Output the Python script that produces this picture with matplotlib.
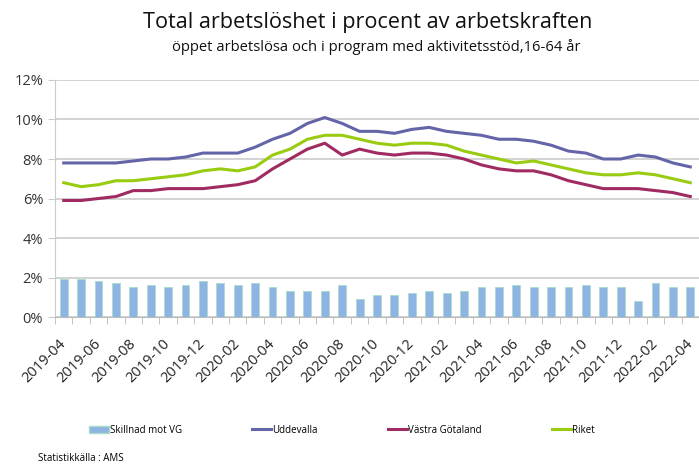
import numpy as np
import matplotlib.pyplot as plt
import matplotlib.transforms as mtransforms
from matplotlib.patches import Patch
from matplotlib.lines import Line2D

# months 2019-04 .. 2022-04
months = ['2019-04', '2019-05', '2019-06', '2019-07', '2019-08', '2019-09',
          '2019-10', '2019-11', '2019-12', '2020-01', '2020-02', '2020-03',
          '2020-04', '2020-05', '2020-06', '2020-07', '2020-08', '2020-09',
          '2020-10', '2020-11', '2020-12', '2021-01', '2021-02', '2021-03',
          '2021-04', '2021-05', '2021-06', '2021-07', '2021-08', '2021-09',
          '2021-10', '2021-11', '2021-12', '2022-01', '2022-02', '2022-03',
          '2022-04']

skillnad = [1.9, 1.9, 1.8, 1.7, 1.5, 1.6, 1.5, 1.6, 1.8, 1.7, 1.6, 1.7,
            1.5, 1.3, 1.3, 1.3, 1.6, 0.9, 1.1, 1.1, 1.2, 1.3, 1.2, 1.3,
            1.5, 1.5, 1.6, 1.5, 1.5, 1.5, 1.6, 1.5, 1.5, 0.8, 1.7, 1.5, 1.5]

uddevalla = [7.8, 7.8, 7.8, 7.8, 7.9, 8.0, 8.0, 8.1, 8.3, 8.3, 8.3, 8.6,
             9.0, 9.3, 9.8, 10.1, 9.8, 9.4, 9.4, 9.3, 9.5, 9.6, 9.4, 9.3,
             9.2, 9.0, 9.0, 8.9, 8.7, 8.4, 8.3, 8.0, 8.0, 8.2, 8.1, 7.8, 7.6]

vastra_gotaland = [5.9, 5.9, 6.0, 6.1, 6.4, 6.4, 6.5, 6.5, 6.5, 6.6, 6.7, 6.9,
                   7.5, 8.0, 8.5, 8.8, 8.2, 8.5, 8.3, 8.2, 8.3, 8.3, 8.2, 8.0,
                   7.7, 7.5, 7.4, 7.4, 7.2, 6.9, 6.7, 6.5, 6.5, 6.5, 6.4, 6.3, 6.1]

riket = [6.8, 6.6, 6.7, 6.9, 6.9, 7.0, 7.1, 7.2, 7.4, 7.5, 7.4, 7.6,
         8.2, 8.5, 9.0, 9.2, 9.2, 9.0, 8.8, 8.7, 8.8, 8.8, 8.7, 8.4,
         8.2, 8.0, 7.8, 7.9, 7.7, 7.5, 7.3, 7.2, 7.2, 7.3, 7.2, 7.0, 6.8]

c_bar = '#8db4e2'
c_udd = '#6464a8'
c_vg = '#a02a62'
c_rik = '#99cc11'

plt.rcParams['font.family'] = ['Open Sans', 'DejaVu Sans']

fig = plt.figure(figsize=(6.99, 4.70), dpi=100)
ax = fig.add_axes([0.0787, 0.3255, 0.9213, 0.5043])

x = np.arange(len(months))
ax.bar(x, skillnad, width=0.45, color=c_bar, edgecolor='#a8dccb', linewidth=0.6, zorder=2)
ax.plot(x, uddevalla, color=c_udd, lw=2.2, zorder=3)
ax.plot(x, vastra_gotaland, color=c_vg, lw=2.2, zorder=3)
ax.plot(x, riket, color=c_rik, lw=2.2, zorder=3)

ax.set_xlim(-0.5, len(months) - 0.5)
ax.set_ylim(0, 12)
ax.set_yticks(np.arange(0, 13, 2))
ax.set_yticklabels([f'{v}%' for v in range(0, 13, 2)], fontsize=10.5, color='#333333')
ax.yaxis.grid(True, color='#cccccc', lw=1.2, zorder=0)
ax.set_axisbelow(True)

ax.set_xticks(x[::2])
ax.set_xticklabels(months[::2], rotation=45, ha='right', va='center',
                   rotation_mode='anchor', fontsize=10.5, color='#222222')
shift = mtransforms.ScaledTranslation(-3 / 100, 0, fig.dpi_scale_trans)
for lab in ax.get_xticklabels():
    lab.set_transform(lab.get_transform() + shift)
ax.set_xticks(np.arange(-0.5, len(months), 1), minor=True)
ax.tick_params(axis='x', which='major', length=0, pad=18)
ax.tick_params(axis='x', which='minor', length=5, color='#bbbbbb', direction='out')
ax.tick_params(axis='y', length=5, color='#cccccc')

for s in ['top', 'right']:
    ax.spines[s].set_visible(False)
ax.spines['left'].set_color('#cccccc')
ax.spines['bottom'].set_color('#bbbbbb')

fig.text(0.526, 0.953, 'Total arbetslöshet i procent av arbetskraften',
         ha='center', va='center', fontsize=15.6, color='#111111')
fig.text(0.538, 0.899, 'öppet arbetslösa och i program med aktivitetsstöd,16-64 år',
         ha='center', va='center', fontsize=10.6, color='#111111')

handles = [Patch(facecolor=c_bar, edgecolor='#a8dccb'),
           Line2D([], [], color=c_udd, lw=2.2),
           Line2D([], [], color=c_vg, lw=2.2),
           Line2D([], [], color=c_rik, lw=2.2)]
labels = ['Skillnad mot VG', 'Uddevalla', 'Västra Götaland', 'Riket']
fig.legend(handles, labels, loc='center left', bbox_to_anchor=(0.115, 0.085),
           ncol=4, frameon=False, fontsize=7, handlelength=2.0,
           handletextpad=0.1, columnspacing=7.2)

fig.text(0.055, 0.012, 'Statistikkälla : AMS', fontsize=7, ha='left', va='bottom')

plt.savefig('out.png', dpi=100)
plt.close('all')
